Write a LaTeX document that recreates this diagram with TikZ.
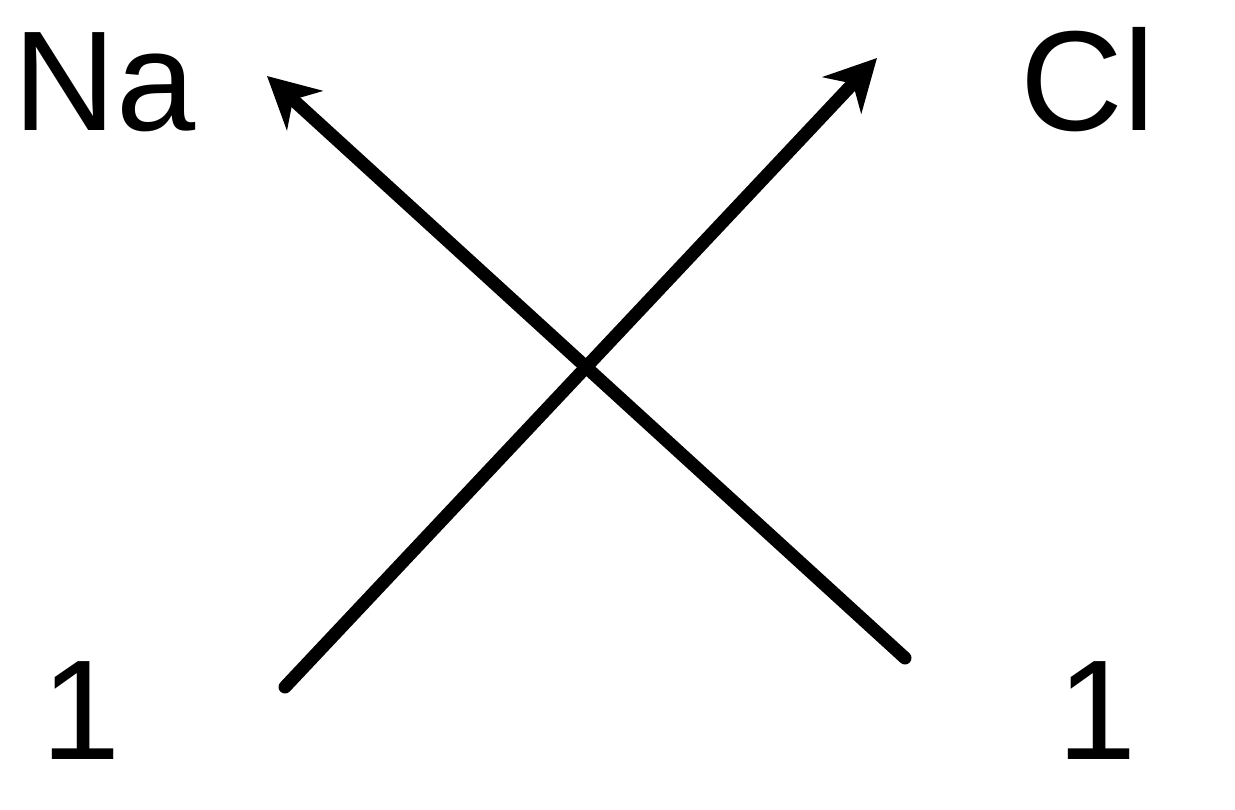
\documentclass[tikz,border=0pt]{standalone}
\usepackage{fontspec}
\setmainfont{Liberation Sans}
\usetikzlibrary{arrows.meta}
\begin{document}
\begin{tikzpicture}[x=0.02cm,y=-0.02cm,
  lbl/.style={inner sep=0pt,anchor=base west,font=\fontsize{81}{86}\selectfont},
  arr/.style={line width=7.4pt,line cap=round,-{Stealth[length=29pt,width=30pt,inset=9pt]}}]
\useasboundingbox (0,0) rectangle (1235,809);
\node[lbl] (na) at (13,130) {Na};
\node[lbl] (cl) at (1020,130) {Cl};
\node[lbl] (oneL) at (41,759) {1};
\node[lbl] (oneR) at (1057,759) {1};
\coordinate (t1) at (285,687);
\coordinate (h1) at (877,58);
\coordinate (t2) at (905,658);
\coordinate (h2) at (267,76);
\draw[arr] (t1) -- (h1);
\draw[arr] (t2) -- (h2);
\end{tikzpicture}
\end{document}
